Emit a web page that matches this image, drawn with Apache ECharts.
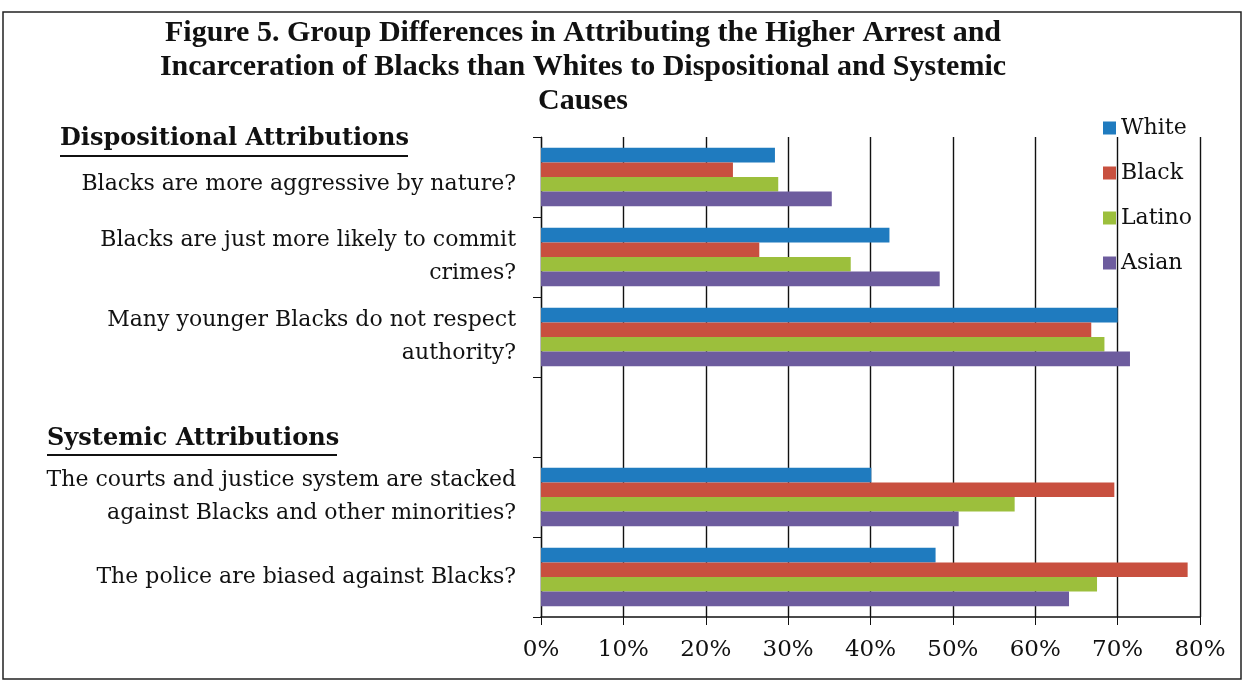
<!DOCTYPE html>
<html>
<head>
<meta charset="utf-8">
<script src="https://cdn.jsdelivr.net/npm/echarts@6/dist/echarts.min.js"></script>
<style>
  html, body { margin: 0; padding: 0; background: #fff; }
  #chart { width: 1246px; height: 683px; }
</style>
</head>
<body>
<div id="chart"></div>
<script>
  // questions, top to bottom (empty row is the gap between the two groups)
  var categories = [
    'Blacks are more aggressive by nature?',
    'Blacks are just more likely to commit\ncrimes?',
    'Many younger Blacks do not respect\nauthority?',
    '',
    'The courts and justice system are stacked\nagainst Blacks and other minorities?',
    'The police are biased against Blacks?'
  ];
  var groups = ['White', 'Black', 'Latino', 'Asian'];
  var white  = [28.4, 42.3, 70.0, null, 40.1, 47.9];
  var black  = [23.3, 26.5, 66.8, null, 69.6, 78.5];
  var latino = [28.8, 37.6, 68.4, null, 57.5, 67.5];
  var asian  = [35.3, 48.4, 71.5, null, 50.7, 64.1];
  var xTicks = [0, 10, 20, 30, 40, 50, 60, 70, 80];

  var colors = ['#1f7bbf', '#c8503f', '#9cbf3c', '#6d5c9e'];
  var serif = '"DejaVu Serif", "Liberation Serif", serif';

  var chart = echarts.init(document.getElementById('chart'));

  var values = [white, black, latino, asian];
  var series = groups.map(function (g, i) {
    return {
      name: g,
      type: 'bar',
      data: values[i],
      barGap: '0%',
      barCategoryGap: '27%',
      itemStyle: { color: colors[i] }
    };
  });

  var option = {
    animation: false,
    backgroundColor: '#fff',
    title: {
      text: 'Figure 5. Group Differences in Attributing the Higher Arrest and\nIncarceration of Blacks than Whites to Dispositional and Systemic\nCauses',
      left: 578,
      top: 11,
      textAlign: 'center',
      textStyle: {
        fontFamily: '"Liberation Serif", serif',
        fontWeight: 'bold',
        fontSize: 30,
        lineHeight: 34,
        color: '#111'
      }
    },
    legend: {
      orient: 'vertical',
      left: 1098,
      top: 112,
      icon: 'rect',
      itemWidth: 13,
      itemHeight: 13,
      itemGap: 23,
      data: groups,
      textStyle: { fontFamily: serif, fontSize: 22, color: '#111' }
    },
    grid: { left: 541, right: 46, top: 137, bottom: 66 },
    xAxis: {
      type: 'value',
      min: xTicks[0],
      max: xTicks[xTicks.length - 1],
      interval: 10,
      axisLine: { show: true, lineStyle: { color: '#111', width: 1.5 } },
      axisTick: { show: true, length: 8, lineStyle: { color: '#111' } },
      splitLine: { show: true, lineStyle: { color: '#111', width: 1.4 } },
      axisLabel: {
        margin: 22,
        fontFamily: serif,
        fontSize: 23,
        color: '#111',
        formatter: '{value}%'
      }
    },
    yAxis: {
      type: 'category',
      inverse: true,
      data: categories,
      axisLine: { show: true, lineStyle: { color: '#111', width: 1.2 } },
      axisTick: { show: true, length: 8, lineStyle: { color: '#111' } },
      axisLabel: {
        margin: 25,
        fontFamily: serif,
        fontSize: 22,
        lineHeight: 33,
        color: '#111',
        // first label sits a bit lower in the original (heading above it)
        formatter: function (v, i) {
          return i === 0 ? '{low|' + v + '}' : v;
        },
        rich: {
          low: { fontFamily: serif, fontSize: 22, color: '#111', padding: [14, 0, 0, 0] }
        }
      }
    },
    graphic: [
      {
        type: 'rect',
        shape: { x: 3, y: 12, width: 1238, height: 667 },
        style: { fill: 'none', stroke: '#222', lineWidth: 1.5 }
      },
      {
        type: 'text',
        left: 60, top: 127,
        style: { text: 'Dispositional Attributions', font: 'bold 24px ' + serif, fill: '#111' }
      },
      {
        type: 'line',
        shape: { x1: 60, y1: 156, x2: 408, y2: 156 },
        style: { stroke: '#111', lineWidth: 2 }
      },
      {
        type: 'text',
        left: 47, top: 427,
        style: { text: 'Systemic Attributions', font: 'bold 24px ' + serif, fill: '#111' }
      },
      {
        type: 'line',
        shape: { x1: 47, y1: 455, x2: 337, y2: 455 },
        style: { stroke: '#111', lineWidth: 2 }
      }
    ],
    series: series
  };

  chart.setOption(option);
</script>
</body>
</html>
